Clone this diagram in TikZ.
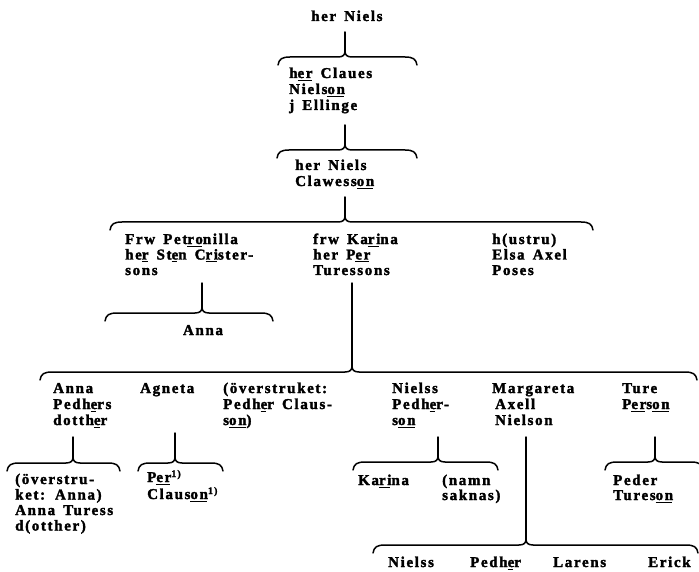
\documentclass[tikz,border=0pt]{standalone}
\usepackage{fontspec}
\newfontfamily\tw{Liberation Serif}[LetterSpace=11,WordSpace=1.5,FakeBold=2]
\newcommand\ul[1]{\setbox0\hbox{#1}\rlap{\rule[-3pt]{\dimexpr\wd0-1pt\relax}{1.3pt}}\box0\relax}
\newcommand\Ln[1]{\hbox{#1}}
\newcommand\tb[2]{\vtop{\baselineskip=#1pt\lineskiplimit=-100pt\lineskip=0pt #2}}
\newcommand\fnmark{\raisebox{5pt}{\fontsize{10}{10}\selectfont 1)}}
% family brace: name, cusp x, stem top y, brace y, left x, right x
\newcommand\fambrace[6]{%
  \coordinate (#1-t) at (#2,#3);
  \coordinate (#1-c) at (#2,{#4-6});
  \draw[bline] (#1-t) -- (#1-c);
  \draw[bline] ({#5},{#4+8}) .. controls ({#5+1},{#4+2}) and ({#5+4},{#4}) .. ({#5+12},{#4})
     -- ({#2-7},{#4}) .. controls ({#2-2},{#4}) and ({#2},{#4-2}) .. (#1-c)
     .. controls ({#2},{#4-2}) and ({#2+2},{#4}) .. ({#2+7},{#4})
     -- ({#6-12},{#4}) .. controls ({#6-4},{#4}) and ({#6-1},{#4+2}) .. ({#6},{#4+8});
}
\begin{document}
\begin{tikzpicture}[x=1pt,y=-1pt,
  bline/.style={line width=1.5pt,line cap=round,line join=round},
  txt/.style={anchor=base west,inner sep=0pt,font=\tw\bfseries\fontsize{15}{16}\selectfont},
  ctxt/.style={anchor=base,inner sep=0pt,font=\tw\bfseries\fontsize{15}{16}\selectfont}]
\fill[white] (0,0) rectangle (699,572);
\useasboundingbox (0,0) rectangle (699,572);

% generation 1
\node[txt] (n1) at (311,21) {her Niels};
\fambrace{b1}{345}{32}{57}{278}{417}
\node[txt] (n2) at (289,78) {\tb{16}{\Ln{h\ul{er} Claues}\Ln{Niels\ul{on}}\Ln{j Ellinge}}};
\fambrace{b2}{345}{125}{150}{277}{417}
\node[txt] (n3) at (295,170) {\tb{16}{\Ln{her Niels}\Ln{Clawess\ul{on}}}};
\fambrace{b3}{345}{197}{222}{110}{593}

% wives
\node[txt] (n4) at (125,244) {\tb{15.5}{\Ln{Frw Pet\ul{ro}nilla}\Ln{he\ul{r} St\ul{e}n C\ul{ri}ster-}\Ln{sons}}};
\node[txt] (n5) at (313,244) {\tb{15.5}{\Ln{frw Ka\ul{ri}na}\Ln{her P\ul{er}}\Ln{Turessons}}};
\node[txt] (n6) at (492,244) {\tb{15.5}{\Ln{h(ustru)}\Ln{Elsa Axel}\Ln{Poses}}};

\fambrace{b4}{202}{283}{313}{105}{273}
\node[ctxt] (n7) at (203,335) {Anna};

\fambrace{b5}{352}{283}{372}{40}{697}

% children
\node[txt] (n8) at (53,393) {\tb{16}{\Ln{Anna}\Ln{Pedh\ul{e}rs}\Ln{dotth\ul{e}r}}};
\node[txt] (n9) at (140,393) {Agneta};
\node[txt] (n10) at (223,393) {\tb{16}{\Ln{(överstruket:}\Ln{Pedh\ul{e}r Claus-}\Ln{s\ul{on})}}};
\node[txt] (n11) at (392,393) {\tb{16}{\Ln{Nielss}\Ln{Pedh\ul{e}r-}\Ln{s\ul{on}}}};
\node[txt] (n12) at (492,393) {\tb{16}{\Ln{Margareta}\Ln{\hspace{3pt}Axell}\Ln{\hspace{3pt}Nielson}}};
\node[txt] (n13) at (622,393) {\tb{16}{\Ln{Ture}\Ln{P\ul{er}s\ul{on}}}};

\fambrace{b6}{73}{437}{463}{7}{120}
\fambrace{b7}{175}{433}{463}{138}{223}
\fambrace{b8}{438}{437}{462}{353}{498}
\fambrace{b9}{655}{437}{462}{605}{703}
\fambrace{b10}{526}{437}{545}{373}{698}

% grandchildren
\node[txt] (n14) at (15,484) {\tb{15.5}{\Ln{(överstru-}\Ln{ket: Anna)}\Ln{Anna Turess}\Ln{d(otther)}}};
\node[txt] (n15) at (147,482) {\tb{17}{\Ln{P\ul{er}\fnmark}\Ln{Claus\ul{on}\fnmark}}};
\node[txt] (n16) at (358,485) {Ka\ul{ri}na};
\node[txt] (n17) at (442,485) {\tb{15}{\Ln{(namn}\Ln{saknas)}}};
\node[txt] (n18) at (613,485) {\tb{15}{\Ln{Peder}\Ln{Tures\ul{on}}}};
\node[txt] (n19) at (388,567) {Nielss};
\node[txt] (n20) at (470,567) {Pedh\ul{e}r};
\node[txt] (n21) at (553,567) {Larens};
\node[txt] (n22) at (648,567) {Erick};
\end{tikzpicture}
\end{document}
